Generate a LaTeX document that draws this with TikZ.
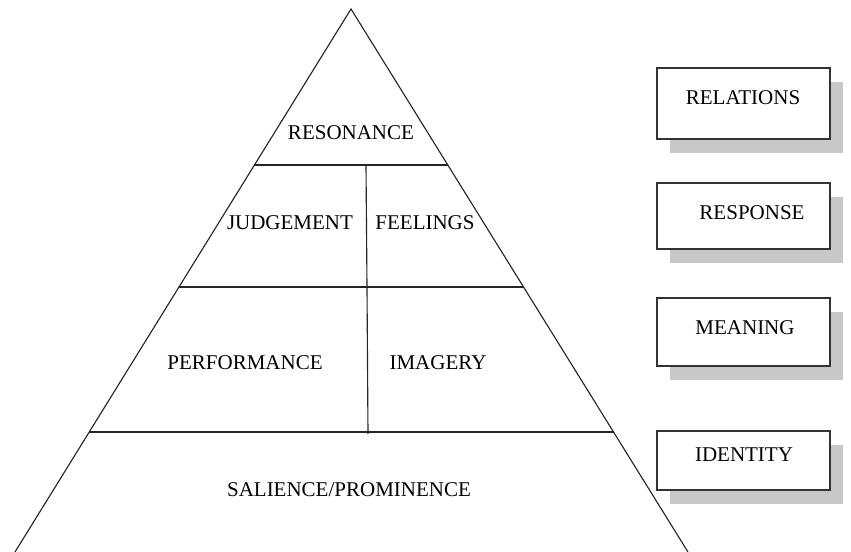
\documentclass[tikz,border=0pt]{standalone}
\usepackage{fontspec}
\setmainfont{Liberation Serif}
\usetikzlibrary{calc}
\definecolor{shade}{RGB}{200,200,202}
\tikzset{
  lbl/.style={font=\fontsize{15.75}{18}\selectfont, inner sep=0pt},
  edge/.style={line width=0.85pt, black!85},
  tagbox/.style={draw=black!80, line width=0.9pt, fill=white},
  tagshadow/.style={fill=shade, draw=none}
}

\begin{document}
\begin{tikzpicture}[x=0.75pt,y=-0.75pt]
			%%%%% START %%%%%
			\useasboundingbox (0,0) rectangle (851,552);
			
			% pyramid outline
			\coordinate (apex) at (351,9);
			\coordinate (bl) at (15,552);
			\coordinate (br) at (688,552);
			\draw[edge] (bl) -- (apex) -- (br);
			
			% tiers
			\coordinate (l1) at ($(apex)!0.2873!(bl)$);
			\coordinate (r1) at ($(apex)!0.2873!(br)$);
			\coordinate (l2) at ($(apex)!0.512!(bl)$);
			\coordinate (r2) at ($(apex)!0.512!(br)$);
			\coordinate (l3) at ($(apex)!0.779!(bl)$);
			\coordinate (r3) at ($(apex)!0.779!(br)$);
			\draw[edge] (l1) -- (r1);
			\draw[edge] (l2) -- (r2);
			\draw[edge] (l3) -- (r3);
			\draw[edge] (366,165) -- (367,287) -- (368,434);
			
			\node[lbl] (resonance) at (351,133) {RESONANCE};
			\node[lbl] (judgement) at (290,223) {JUDGEMENT};
			\node[lbl] (feelings) at (425,223) {FEELINGS};
			\node[lbl] (performance) at (245,363) {PERFORMANCE};
			\node[lbl] (imagery) at (438,363) {IMAGERY};
			\node[lbl] (salience) at (349,490) {SALIENCE/PROMINENCE};
			
			% side boxes
			\fill[tagshadow] (670,82) rectangle (843,153);
			\draw[tagbox] (657,68) rectangle (830,139);
			\fill[tagshadow] (670,197) rectangle (843,263);
			\draw[tagbox] (657,183) rectangle (830,249);
			\fill[tagshadow] (670,312) rectangle (843,380);
			\draw[tagbox] (657,298) rectangle (830,366);
			\fill[tagshadow] (670,445) rectangle (843,504);
			\draw[tagbox] (657,431) rectangle (830,490);
			
			\node[lbl] (relations) at (743,98) {RELATIONS};
			\node[lbl] (response) at (752,213) {RESPONSE};
			\node[lbl] (meaning) at (745,328) {MEANING};
			\node[lbl] (identity) at (744,455) {IDENTITY};
			
			%%%%% END %%%%%
\end{tikzpicture}
\end{document}
